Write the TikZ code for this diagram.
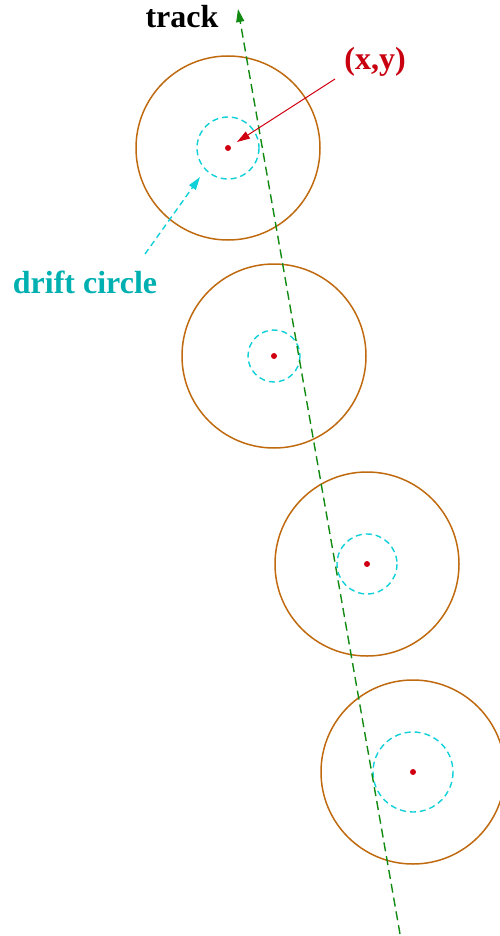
\documentclass[tikz,border=0pt]{standalone}
\usepackage{fontspec}
\setmainfont{Liberation Serif}
\usetikzlibrary{arrows.meta}
\definecolor{wallc}{HTML}{C06A10}
\definecolor{driftc}{HTML}{10D0D8}
\definecolor{trackc}{HTML}{108A10}
\definecolor{ptc}{HTML}{D00010}
\definecolor{labcyan}{HTML}{00B0B0}
\definecolor{labred}{HTML}{C80010}
\begin{document}
\begin{tikzpicture}[x=1pt,y=-1pt,
  wall/.style={draw=wallc,line width=1.5pt},
  drift/.style={draw=driftc,line width=1.4pt,dash pattern=on 6pt off 4pt},
  wire/.style={fill=ptc},
  lab/.style={font=\fontsize{32}{37}\selectfont\bfseries,inner sep=0pt},
  tip/.style={-{Triangle[length=13pt,width=8pt]}}]
\useasboundingbox (0,0) rectangle (499,936);
% wires
\coordinate (w1) at (228,148);
\coordinate (w2) at (274,356);
\coordinate (w3) at (367,564);
\coordinate (w4) at (413,772);
\foreach \w/\r in {w1/31,w2/26,w3/30,w4/40}{
  \draw[wall] (\w) circle[radius=92];
  \draw[drift] (\w) circle[radius=\r];
  \fill[wire] (\w) circle[radius=3];
}
% track
\coordinate (tbot) at (400,934);
\coordinate (ttop) at (238,9);
\draw[trackc,line width=1.4pt,dash pattern=on 9pt off 5pt,tip] (tbot) -- (ttop);
% labels
\node[lab,text=black] (track) at (182,17) {track};
\node[lab,text=labred] (xy) at (375,62) {(x,y)};
\node[lab,text=labcyan] (dc) at (85,282) {drift circle};
% label arrows
\coordinate (xyfrom) at (335,79);
\coordinate (xyto) at (237,142);
\draw[ptc,line width=1pt,tip] (xyfrom) -- (xyto);
\coordinate (dcfrom) at (145,254);
\coordinate (dcto) at (200,177);
\draw[driftc,line width=1.4pt,dash pattern=on 6pt off 4pt,tip] (dcfrom) -- (dcto);
\end{tikzpicture}
\end{document}
